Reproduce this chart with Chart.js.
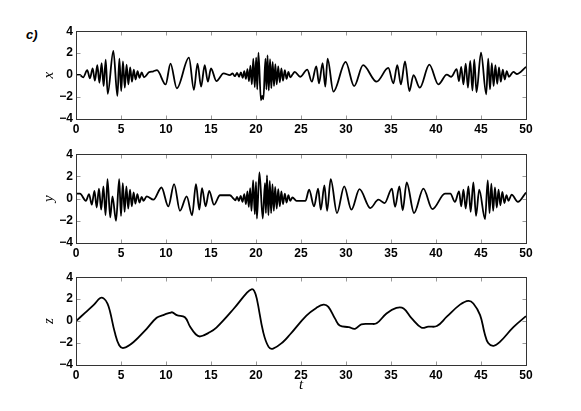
<!DOCTYPE html>
<html>
<head>
<meta charset="utf-8">
<script src="https://cdn.jsdelivr.net/npm/chart.js@4.4.1/dist/chart.umd.min.js"></script>
<style>
  html, body { margin: 0; padding: 0; background: #fff; }
  body { width: 581px; height: 411px; position: relative; overflow: hidden; }
  canvas { position: absolute; left: 0; }
  #tag { position: absolute; left: 26px; top: 27px; font: italic bold 13px 'Liberation Sans', Arial, sans-serif; }
</style>
</head>
<body>
<div id="tag">c)</div>
<canvas id="cx" width="581" height="123" style="top:21px"></canvas>
<canvas id="cy" width="581" height="124" style="top:144px"></canvas>
<canvas id="cz" width="581" height="127" style="top:267px"></canvas>
<script>
// ---- Data (extrema and turning points) ----
const tTicks = [0, 5, 10, 15, 20, 25, 30, 35, 40, 45, 50];
const vTicks = [-4, -2, 0, 2, 4];

const xT = [0,0.4,0.8,1.25,1.55,1.85,2.1,2.37,2.6,2.85,
  3.07,3.3,3.52,4.15,4.6,4.82,5.02,5.22,5.42,5.62,
  5.82,6.02,6.22,6.42,6.62,6.84,7.06,7.3,7.55,8.1,
  8.6,9.0,9.96,10.5,11.2,12.55,13.1,13.5,13.9,14.3,
  14.65,15.0,15.6,16.4,17.1,17.4,17.65,17.9,18.12,18.32,
  18.52,18.7,18.88,19.05,19.22,19.38,19.54,19.7,19.86,20.02,
  20.14,20.27,20.55,20.68,20.82,21.05,21.16,21.28,21.42,21.56,
  21.7,21.85,22.0,22.15,22.3,22.47,22.64,22.82,23.0,23.2,
  23.4,23.6,23.8,24.05,24.3,24.9,25.7,26.2,26.7,27.0,
  27.4,27.7,27.95,28.6,29.96,30.9,31.9,33.4,34.7,35.26,
  35.7,36.1,36.56,37.04,37.5,38.2,39.26,40.26,41.2,41.7,
  42.3,42.55,42.8,43.05,43.3,43.55,43.8,44.05,44.25,44.5,
  45.0,45.58,45.8,46.0,46.2,46.4,46.6,46.8,47.0,47.2,
  47.42,47.64,47.86,48.1,48.6,48.96,50];
const xV = [0,0.02,-0.2,0.45,-0.3,0.6,-0.5,0.9,-0.7,1.1,
  -1.0,1.4,-1.7,2.2,-1.9,1.5,-1.45,1.25,-1.15,0.95,
  -0.85,0.7,-0.6,0.5,-0.4,0.35,-0.25,0.25,-0.2,0.25,
  0.35,0.45,-0.85,1.05,-1.2,1.6,-1.35,1.05,-1.05,0.9,
  -0.6,0.6,-0.55,0.15,0,0.15,-0.1,0.2,-0.15,0.25,
  -0.25,0.35,-0.35,0.55,-0.55,0.85,-0.85,1.5,-1.1,1.6,
  -1.3,2.05,-2.3,-1.9,-2.2,1.5,-1.3,1.8,-1.4,1.45,
  -1.2,1.2,-1.0,1.0,-0.85,0.8,-0.65,0.6,-0.5,0.45,
  -0.35,0.3,-0.2,0.05,0.3,-0.15,0.5,-0.6,0.8,-0.75,
  1.1,-1.05,1.5,-1.5,1.2,-1.0,0.9,-0.6,0.65,-0.75,
  0.9,-0.85,1.25,-1.45,0.0,-1.15,0.95,-0.85,0.05,-0.15,
  0.55,-0.55,0.75,-0.85,1.05,-1.15,1.3,-1.4,1.4,-1.55,
  2.05,-1.75,1.5,-1.3,1.1,-1.0,0.9,-0.8,0.7,-0.6,
  0.5,-0.4,0.35,-0.15,0.3,0.1,0.75];

const yT = [0,0.44,1.1,1.45,1.75,2.05,2.3,2.55,2.8,3.05,
  3.28,3.5,3.8,4.05,4.45,4.8,5.0,5.2,5.4,5.6,
  5.8,6.0,6.2,6.4,6.6,6.82,7.05,7.3,7.5,7.85,
  8.6,9.5,10.26,10.9,11.55,12.3,12.9,13.33,13.7,14.0,
  14.4,14.8,15.33,16.0,17.1,17.5,17.7,17.9,18.1,18.3,
  18.5,18.7,18.88,19.05,19.2,19.35,19.5,19.68,19.87,20.0,
  20.1,20.38,20.75,21.0,21.1,21.22,21.38,21.53,21.68,21.83,
  21.98,22.13,22.3,22.47,22.64,22.82,23.0,23.2,23.4,23.6,
  23.8,24.05,24.5,25.5,25.9,26.45,26.9,27.2,27.6,27.9,
  28.3,29.0,29.8,30.6,31.5,32.7,33.6,34.3,35.1,35.45,
  35.93,36.3,36.74,37.56,38.6,39.6,41.0,41.6,42.1,42.56,
  42.8,43.05,43.3,43.6,43.85,44.15,44.45,44.8,45.45,45.75,
  45.95,46.15,46.35,46.55,46.75,46.95,47.15,47.37,47.6,47.83,
  48.05,48.4,49.1,50];
const yV = [0.45,0.45,-0.2,0.4,-0.55,0.7,-0.8,0.9,-1.0,1.1,
  -1.5,1.75,-1.7,0.2,-2.0,1.75,-1.55,1.4,-1.2,1.1,
  -0.9,0.8,-0.7,0.55,-0.45,0.4,-0.35,0.15,-0.2,0.2,
  -0.1,1.0,-0.7,1.3,-1.1,0.2,-1.5,1.3,-1.0,0.95,
  -0.7,0.7,-0.55,0.3,0.3,0.0,-0.15,0.15,-0.2,0.25,
  -0.3,0.4,-0.5,0.65,-0.75,0.95,-1.1,1.65,-1.4,1.5,
  -1.8,2.35,-1.8,1.4,-1.3,2.1,-1.5,1.6,-1.3,1.3,
  -1.1,1.05,-0.9,0.85,-0.7,0.65,-0.5,0.45,-0.35,0.3,
  -0.2,0.1,-0.2,-0.2,0.8,-0.7,0.9,-1.0,1.2,-1.1,
  1.75,-1.3,1.1,-1.0,0.85,-0.85,-0.1,-0.4,0.9,-0.75,
  1.1,-1.05,1.45,-1.3,0.9,-0.95,0.45,0.45,-0.3,0.65,
  -0.7,0.8,-0.9,1.1,-1.2,1.45,-1.55,0.8,-1.85,1.65,
  -1.3,1.35,-1.1,1.0,-0.8,0.8,-0.6,0.6,-0.4,0.3,
  -0.2,0.35,-0.3,0.55];

const zT = [0,1,2,2.7,3.1,3.5,3.8,4.3,4.8,5.3,
  6.4,7.85,8.96,9.7,10.44,10.7,11.2,12.1,12.67,13.3,
  13.8,14.9,15.6,17.5,19.0,19.5,19.8,20.1,20.8,21.4,
  21.9,23.0,23.8,25.6,26.7,27.5,28.04,28.8,29.3,30.3,
  31.0,31.7,32.67,33.4,34.5,35.6,36.4,37.3,38.4,39.15,
  40.1,41.2,42.67,43.6,44.15,44.9,45.4,45.8,46.4,47.1,
  48.6,50];
const zV = [0,0.75,1.5,2.1,2.05,1.6,0.8,-1.0,-2.2,-2.45,
  -1.9,-0.7,0.3,0.55,0.75,0.8,0.55,0.35,-0.5,-1.2,
  -1.4,-1.0,-0.6,1.1,2.6,2.9,2.75,2.0,-1.0,-2.35,
  -2.5,-1.9,-1.2,0.5,1.2,1.5,1.3,0.2,-0.4,-0.55,
  -0.7,-0.3,-0.25,-0.2,0.7,1.2,1.15,0.25,-0.6,-0.5,
  -0.45,0.4,1.5,1.85,1.6,0.55,-1.1,-2.0,-2.25,-1.9,
  -0.55,0.45];

// ---- Styling ----
Chart.defaults.font.family = "'Liberation Sans', Arial, sans-serif";
const tickFont = { size: 12, weight: 'bold' };
const labelFont = { family: "'Liberation Serif', 'Times New Roman', serif", style: 'italic', size: 15 };

// box around the axes plus inward tick marks, MATLAB style
const frame = {
  id: 'frame',
  afterDatasetsDraw(chart) {
    const { ctx, chartArea: a, scales: { x, y } } = chart;
    const L = Math.round(a.left) + 0.5, R = Math.round(a.right) + 0.5;
    const T = Math.round(a.top) + 0.5, B = Math.round(a.bottom) + 0.5;
    ctx.save();
    ctx.lineWidth = 1;
    ctx.strokeStyle = '#999';
    ctx.beginPath();
    x.ticks.forEach(t => {
      const px = Math.round(x.getPixelForValue(t.value)) + 0.5;
      ctx.moveTo(px, B); ctx.lineTo(px, B - 4);
      ctx.moveTo(px, T); ctx.lineTo(px, T + 4);
    });
    y.ticks.forEach(t => {
      const py = Math.round(y.getPixelForValue(t.value)) + 0.5;
      ctx.moveTo(L, py); ctx.lineTo(L + 4, py);
      ctx.moveTo(R, py); ctx.lineTo(R - 4, py);
    });
    ctx.stroke();
    ctx.strokeStyle = '#333';
    ctx.strokeRect(L, T, R - L, B - T);
    ctx.restore();
  }
};

function panel(id, ts, vs, label, axisH, showT, smooth) {
  const line = {
    data: ts.map((t, i) => ({ x: t, y: vs[i] })),
    borderColor: '#000',
    borderWidth: 1.8,
    pointRadius: 0,
    fill: false
  };
  if (smooth) line.tension = 0.4;
  else line.cubicInterpolationMode = 'monotone';

  new Chart(document.getElementById(id), {
    type: 'line',
    data: { datasets: [line] },
    options: {
      responsive: false,
      animation: false,
      events: [],
      layout: { padding: { left: 40, right: 55, top: 10, bottom: 0 } },
      plugins: { legend: { display: false }, tooltip: { enabled: false } },
      scales: {
        x: {
          type: 'linear', min: 0, max: 50,
          grid: { display: false, drawTicks: false },
          border: { display: false },
          afterBuildTicks: s => { s.ticks = tTicks.map(v => ({ value: v })); },
          ticks: { padding: 3, color: '#000', font: tickFont, maxRotation: 0, autoSkip: false },
          title: { display: showT, text: 't', color: '#000', font: labelFont, padding: 0 },
          afterFit: s => { s.height = axisH; }
        },
        y: {
          type: 'linear', min: -4, max: 4,
          grid: { display: false, drawTicks: false },
          border: { display: false },
          afterBuildTicks: s => { s.ticks = vTicks.map(v => ({ value: v })); },
          ticks: {
            padding: 3, color: '#000', font: tickFont, autoSkip: false,
            callback: v => v < 0 ? '\u2212' + Math.abs(v) : String(v)
          },
          title: { display: true, text: label, color: '#000', font: labelFont, padding: 0 },
          afterFit: s => { s.width = 36; }
        }
      }
    },
    plugins: [frame]
  });
}

panel('cx', xT, xV, 'x', 25, false, false);
panel('cy', yT, yV, 'y', 25, false, false);
panel('cz', zT, zV, 'z', 29, true, true);
</script>
</body>
</html>
